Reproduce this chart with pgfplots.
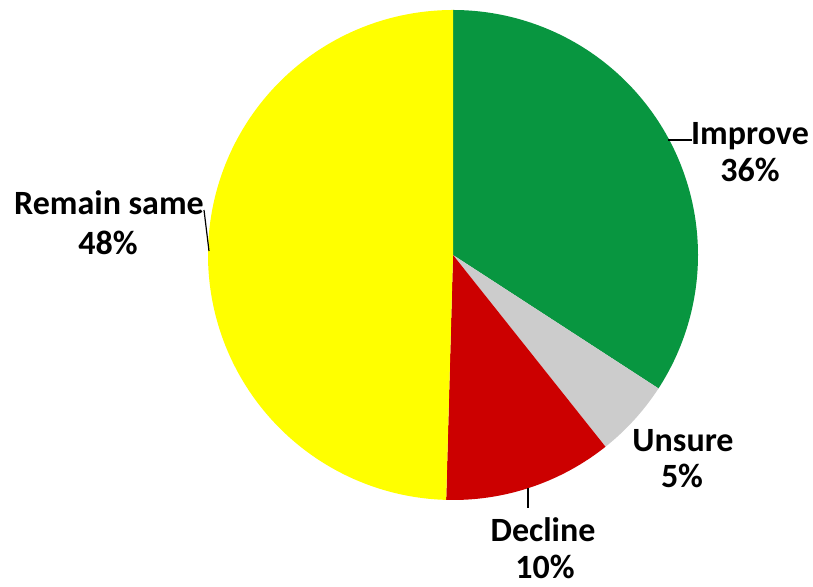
\documentclass[border=0pt]{standalone}
\usepackage{pgfplots}
\pgfplotsset{compat=1.18}
\usepackage{fontspec}
\setmainfont{Carlito}
\definecolor{pgreen}{RGB}{8,150,64}
\definecolor{pyellow}{RGB}{255,255,0}
\definecolor{pgray}{RGB}{204,204,204}
\definecolor{pred}{RGB}{204,0,0}
\tikzset{lbl/.style={font=\fontsize{17}{20}\selectfont\bfseries, inner sep=0pt, anchor=base}}
% slices: start angle, end angle (degrees, counter-clockwise from east), share
% Improve 34.2%  : -33.0 .. 90.0
% Unsure   5.1%  : -51.5 .. -33.0
% Decline 11.1%  : -91.6 .. -51.5
% Remain  49.6%  : 90.0 .. 268.4
\begin{document}
\begin{tikzpicture}
\begin{axis}[
  scale only axis, width=406.5pt, height=293.5pt,
  xmin=0, xmax=813, ymin=0, ymax=587,
  hide axis, clip=false,
]
\addplot[draw=none, forget plot] coordinates {(0,0) (813,587)};
\addplot[fill=pgreen, draw=none, domain=-33:90, samples=120, smooth]
  ({453+245*cos(x)},{332+245*sin(x)}) -- (axis cs:453,332) -- cycle;
\addplot[fill=pgray, draw=none, domain=-51.5:-33, samples=30, smooth]
  ({453+245*cos(x)},{332+245*sin(x)}) -- (axis cs:453,332) -- cycle;
\addplot[fill=pred, draw=none, domain=-91.6:-51.5, samples=50, smooth]
  ({453+245*cos(x)},{332+245*sin(x)}) -- (axis cs:453,332) -- cycle;
\addplot[fill=pyellow, draw=none, domain=90:268.4, samples=160, smooth]
  ({453+245*cos(x)},{332+245*sin(x)}) -- (axis cs:453,332) -- cycle;
% leader lines
\addplot[black, line width=0.6pt] coordinates {(668,447) (692,447)};
\addplot[black, line width=0.6pt] coordinates {(204,377) (209,336)};
\addplot[black, line width=0.6pt] coordinates {(528,99) (528,79)};
% labels
\node[lbl] at (axis cs:750,442) {Improve};
\node[lbl] at (axis cs:750,405) {36\%};
\node[lbl] at (axis cs:109,372) {Remain same};
\node[lbl] at (axis cs:108,332) {48\%};
\node[lbl] at (axis cs:683,135) {Unsure};
\node[lbl] at (axis cs:682,99) {5\%};
\node[lbl] at (axis cs:543,45) {Decline};
\node[lbl] at (axis cs:545,8) {10\%};
\end{axis}
\end{tikzpicture}
\end{document}
